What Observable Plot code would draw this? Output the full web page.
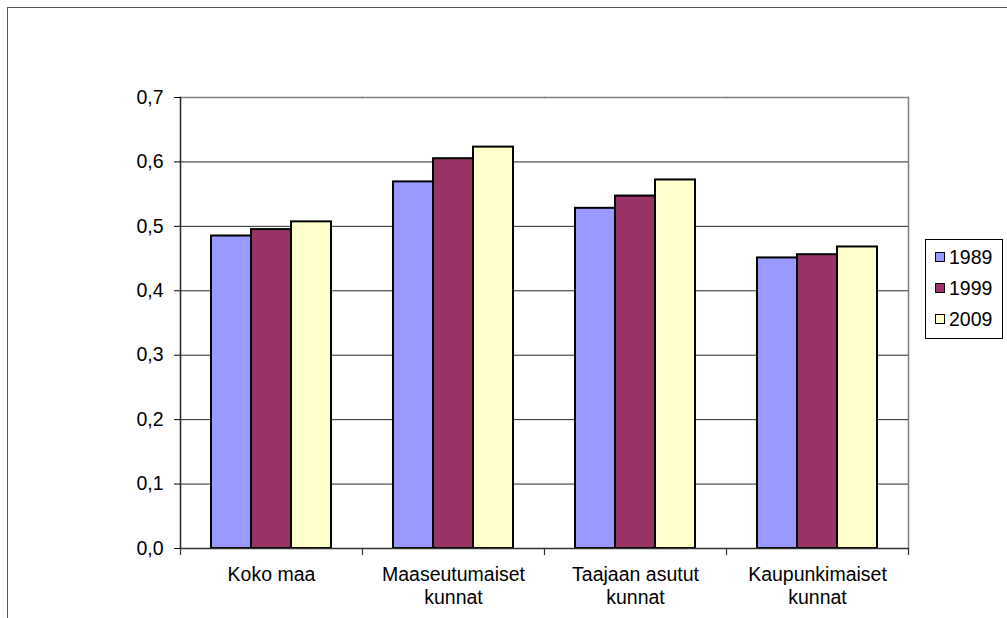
<!DOCTYPE html>
<html>
<head>
<meta charset="utf-8">
<script src="https://cdn.jsdelivr.net/npm/d3@7"></script>
<script src="https://cdn.jsdelivr.net/npm/@observablehq/plot@0.6"></script>
<style>
  html, body { margin: 0; padding: 0; background: #fff; overflow: hidden; width: 1007px; height: 618px; }
  #wrap { position: relative; width: 1007px; height: 618px; font-family: "Liberation Sans", Arial, sans-serif; }
  #outer { position: absolute; left: 7px; top: 7px; width: 1100px; height: 700px; border-top: 1.5px solid #555; border-left: 1.5px solid #555; }
  #chart { position: absolute; left: 0; top: 0; }
  #legend { position: absolute; left: 925px; top: 239px; width: 78px; height: 100px; border: 1px solid #000; background: #fff; box-sizing: border-box; }
  .item { position: absolute; left: 9px; font-size: 19.5px; line-height: 20px; color: #000; }
  .sw { display: inline-block; width: 8px; height: 8px; border: 1.5px solid #000; margin-right: 4px; vertical-align: 2px; }
</style>
</head>
<body>
<div id="wrap">
  <div id="outer"></div>
  <div id="chart"></div>
  <div id="legend"></div>
</div>
<script>
const categories = ["Koko maa", "Maaseutumaiset\nkunnat", "Taajaan asutut\nkunnat", "Kaupunkimaiset\nkunnat"];
const years = ["1989", "1999", "2009"];
const values1989 = [0.485, 0.569, 0.528, 0.451];
const values1999 = [0.495, 0.605, 0.547, 0.456];
const values2009 = [0.507, 0.623, 0.572, 0.468];
const colors = ["#9999FF", "#993366", "#FFFFCC"];
const yTicks = [0, 0.1, 0.2, 0.3, 0.4, 0.5, 0.6, 0.7];
const gridTicks = [0.1, 0.2, 0.3, 0.4, 0.5, 0.6];

const series = [values1989, values1999, values2009];
const data = [];
categories.forEach((c, i) => years.forEach((y, j) => data.push({cat: c, year: y, value: series[j][i]})));

const fmt = d => d3.format(".1f")(d).replace(".", ",");
const FS = 19.5;

const chart = Plot.plot({
  width: 1007,
  height: 618,
  marginLeft: 180,
  marginRight: 99,
  marginTop: 97,
  marginBottom: 70,
  style: {fontFamily: '"Liberation Sans", Arial, sans-serif', fontSize: FS + "px", background: "transparent", color: "#000"},
  fx: {domain: categories, padding: 0},
  x: {domain: years, axis: null, paddingInner: 0, paddingOuter: 0.74},
  y: {domain: [0, 0.7]},
  color: {domain: years, range: colors},
  marks: [
    Plot.gridY(gridTicks, {stroke: "#000", strokeOpacity: 0.85, strokeWidth: 1}),
    Plot.frame({anchor: "top", stroke: "#808080", strokeWidth: 1.5}),
    Plot.frame({anchor: "right", facetAnchor: "right", stroke: "#808080", strokeWidth: 1.5}),
    Plot.barY(data, {fx: "cat", x: "year", y: "value", fill: "year", stroke: "#000", strokeWidth: 2}),
    Plot.ruleY([0], {stroke: "#333", strokeWidth: 1.5}),
    Plot.frame({anchor: "left", facetAnchor: "left", stroke: "#222", strokeWidth: 1.5}),
    Plot.frame({anchor: "left", insetTop: 451, insetBottom: -6, stroke: "#333", strokeWidth: 1.2}),
    Plot.frame({anchor: "right", facetAnchor: "right", insetTop: 451, insetBottom: -6, stroke: "#333", strokeWidth: 1.2}),
    Plot.axisY(yTicks, {anchor: "left", tickSize: 6, tickPadding: 11, tickFormat: fmt, fontSize: FS, label: null}),
    Plot.axisFx({anchor: "bottom", tickSize: 0, tickPadding: 17, lineHeight: 1.15, fontSize: FS, label: null})
  ]
});
document.getElementById("chart").appendChild(chart);

const legend = document.getElementById("legend");
const rowTops = [7, 38, 69];
years.forEach((y, i) => {
  const d = document.createElement("div");
  d.className = "item";
  d.style.top = rowTops[i] + "px";
  d.innerHTML = `<span class="sw" style="background:${colors[i]}"></span>${y}`;
  legend.appendChild(d);
});
</script>
</body>
</html>
